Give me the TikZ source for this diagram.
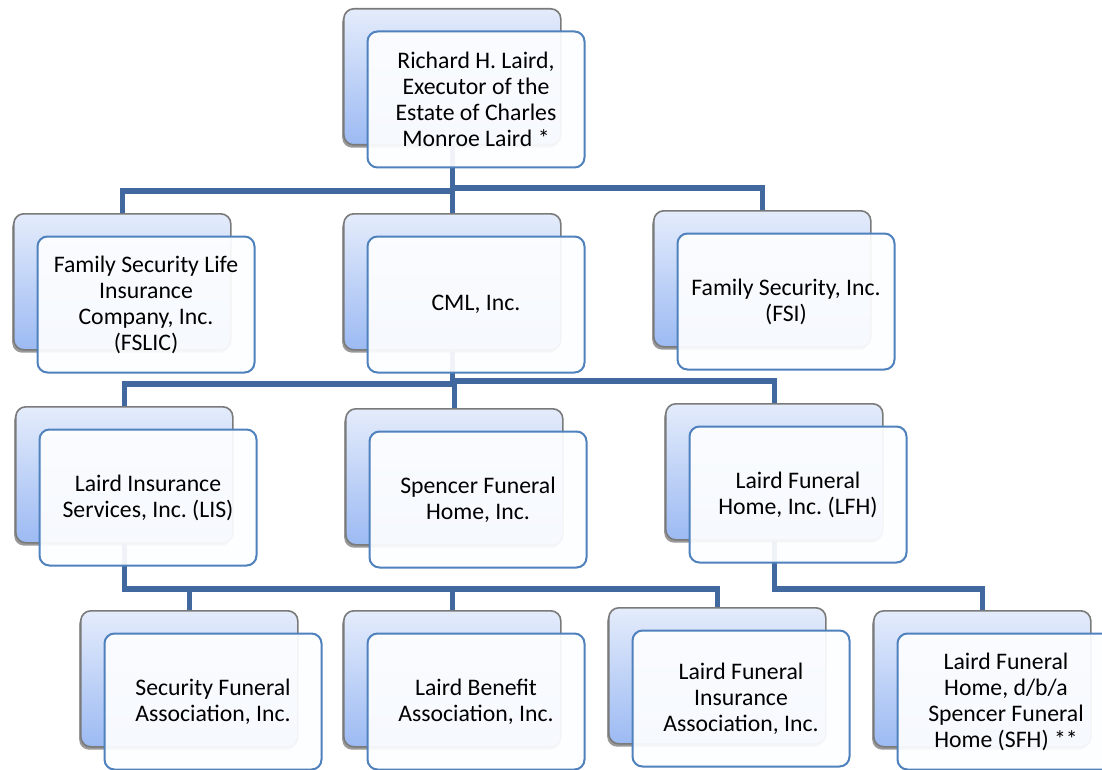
\documentclass[tikz,border=0pt]{standalone}
\usepackage{fontspec}
\setmainfont{Carlito}
\frenchspacing
\usetikzlibrary{shadows}
\definecolor{conncol}{HTML}{41699F}
\definecolor{frontborder}{HTML}{4F81BD}
\definecolor{frontfill}{HTML}{FDFEFF}
\definecolor{backtop}{HTML}{E4ECFB}
\definecolor{backbot}{HTML}{9CBAF3}
\definecolor{backborder}{HTML}{7A7A7A}
\begin{document}
\begin{tikzpicture}[x=0.75pt,y=-0.75pt,
  backbox/.style={rectangle, rounded corners=7.5pt, draw=backborder, line width=1.2pt,
    top color=backtop, bottom color=backbot, minimum width=162.75pt, minimum height=102pt,
    inner sep=0pt, anchor=north west,
    drop shadow={shadow xshift=-1.2pt, shadow yshift=-2.2pt, fill=black, opacity=0.4}},
  frontbox/.style={rectangle, rounded corners=7.5pt, draw=frontborder, line width=1.5pt,
    fill=frontfill, fill opacity=0.93, text opacity=1, minimum width=162.75pt, minimum height=102pt,
    inner sep=0pt, anchor=north west, align=center, text=black,
    font=\fontsize{17.8}{19.5}\selectfont},
  conn/.style={draw=conncol, line width=3.8pt}]
\clip (0,0) rectangle (1102,770);
\fill[white] (0,0) rectangle (1102,770);
% back boxes
\node[backbox] (b0) at (343,8) {};
\node[backbox] (b1) at (13,213) {};
\node[backbox] (b2) at (343,213) {};
\node[backbox] (b3) at (653,210) {};
\node[backbox] (b4) at (15,406) {};
\node[backbox] (b5) at (345,408) {};
\node[backbox] (b6) at (665,403) {};
\node[backbox] (b7) at (80,610) {};
\node[backbox] (b8) at (343,610) {};
\node[backbox] (b9) at (608,607) {};
\node[backbox] (b10) at (873,610) {};
% bus levels
\coordinate (h1l) at (0,191);
\coordinate (h1r) at (0,188);
\coordinate (h2l) at (0,384);
\coordinate (h2r) at (0,381);
\coordinate (h3) at (0,589);
% connectors
\draw[conn] (b0.south) -- (b2.north);
\draw[conn] (b0.south |- h1l) -| (b1.north);
\draw[conn] (b0.south |- h1r) -| (b3.north);
\draw[conn] (b2.south) -- (b2.south |- h2l) -| (b4.north);
\draw[conn] (b2.south |- h2l) -| (b5.north);
\draw[conn] (b2.south |- h2r) -| (b6.north);
\draw[conn] (b4.south) |- (b9.north |- h3) -- (b9.north);
\draw[conn] (b7.north |- h3) -- (b7.north);
\draw[conn] (b8.north |- h3) -- (b8.north);
\draw[conn] (b6.south) |- (b10.north |- h3) -- (b10.north);
% front boxes
\node[frontbox] (f0) at ([shift={(23.5,22.5)}]b0.north west) {Richard H. Laird,\\Executor of the\\Estate of Charles\\Monroe Laird *};
\node[frontbox] (f1) at ([shift={(23.5,22.5)}]b1.north west) {Family Security Life\\Insurance\\Company, Inc.\\(FSLIC)};
\node[frontbox] (f2) at ([shift={(23.5,22.5)}]b2.north west) {CML, Inc.};
\node[frontbox] (f3) at ([shift={(23.5,22.5)}]b3.north west) {Family Security, Inc.\\(FSI)};
\node[frontbox] (f4) at ([shift={(23.5,22.5)}]b4.north west) {Laird Insurance\\Services, Inc. (LIS)};
\node[frontbox] (f5) at ([shift={(23.5,22.5)}]b5.north west) {Spencer Funeral\\Home, Inc.};
\node[frontbox] (f6) at ([shift={(23.5,22.5)}]b6.north west) {Laird Funeral\\Home, Inc. (LFH)};
\node[frontbox] (f7) at ([shift={(23.5,22.5)}]b7.north west) {Security Funeral\\Association, Inc.};
\node[frontbox] (f8) at ([shift={(23.5,22.5)}]b8.north west) {Laird Benefit\\Association, Inc.};
\node[frontbox] (f9) at ([shift={(23.5,22.5)}]b9.north west) {Laird Funeral\\Insurance\\Association, Inc.};
\node[frontbox] (f10) at ([shift={(23.5,22.5)}]b10.north west) {Laird Funeral\\Home, d/b/a\\Spencer Funeral\\Home (SFH) **};
\end{tikzpicture}
\end{document}
